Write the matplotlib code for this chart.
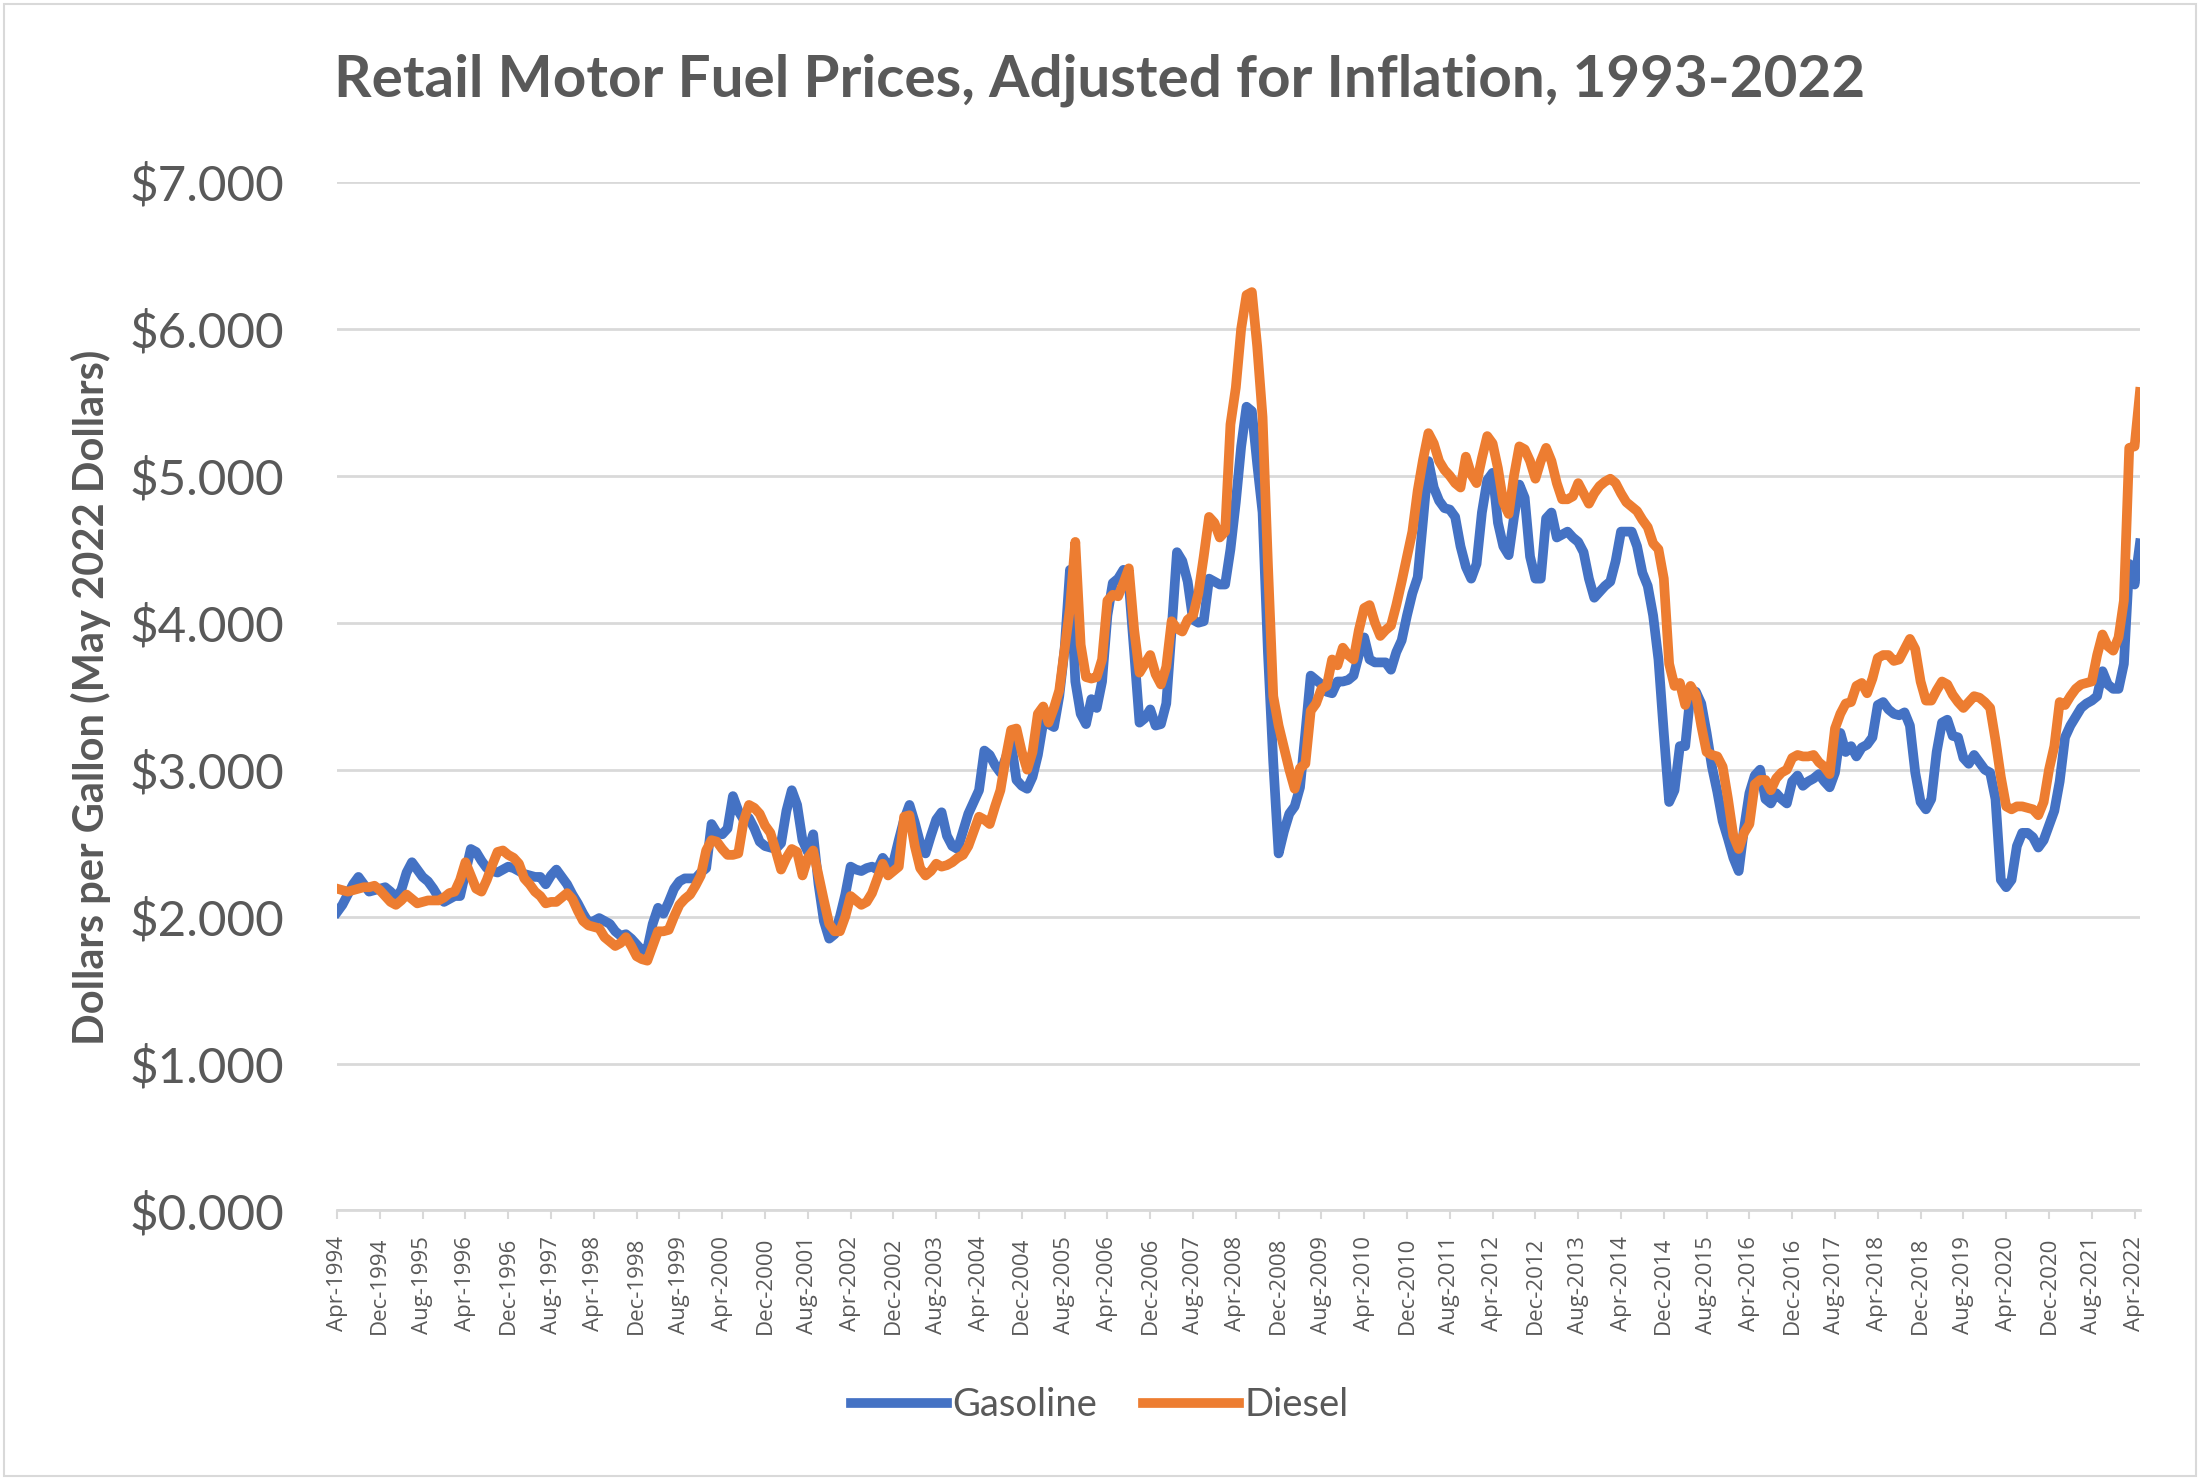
import numpy as np
import pandas as pd
import matplotlib
matplotlib.use("Agg")
import matplotlib.pyplot as plt
from matplotlib.patches import Rectangle

# monthly prices, May 2022 dollars per gallon, Apr-1994 .. May-2022
gasoline = [
    2.03, 2.08, 2.15, 2.22, 2.27, 2.22, 2.17, 2.18, 2.19,                    # 1994 (Apr-Dec)
    2.20, 2.17, 2.13, 2.18, 2.30, 2.37, 2.32, 2.27, 2.24, 2.19, 2.13, 2.10,  # 1995
    2.12, 2.14, 2.14, 2.30, 2.46, 2.44, 2.38, 2.33, 2.31, 2.30, 2.32, 2.34,  # 1996
    2.33, 2.31, 2.29, 2.28, 2.27, 2.27, 2.22, 2.28, 2.32, 2.27, 2.22, 2.15,  # 1997
    2.09, 2.02, 1.96, 1.97, 1.99, 1.97, 1.95, 1.90, 1.87, 1.88, 1.85, 1.81,  # 1998
    1.77, 1.78, 1.95, 2.06, 2.02, 2.10, 2.19, 2.24, 2.26, 2.26, 2.26, 2.30,  # 1999
    2.33, 2.63, 2.57, 2.56, 2.60, 2.82, 2.72, 2.66, 2.67, 2.60, 2.51, 2.48,  # 2000
    2.47, 2.46, 2.50, 2.72, 2.86, 2.76, 2.52, 2.44, 2.56, 2.22, 1.97, 1.85,  # 2001
    1.88, 2.00, 2.15, 2.34, 2.32, 2.31, 2.33, 2.34, 2.32, 2.40, 2.35, 2.37,  # 2002
    2.52, 2.66, 2.76, 2.64, 2.50, 2.43, 2.55, 2.66, 2.71, 2.55, 2.48, 2.46,  # 2003
    2.58, 2.70, 2.78, 2.86, 3.13, 3.10, 3.03, 2.98, 3.08, 3.18, 2.93, 2.89,  # 2004
    2.87, 2.95, 3.10, 3.32, 3.31, 3.29, 3.50, 3.82, 4.36, 3.60, 3.38, 3.31,  # 2005
    3.48, 3.42, 3.60, 4.05, 4.27, 4.30, 4.36, 4.27, 3.80, 3.32, 3.35, 3.41,  # 2006
    3.30, 3.31, 3.45, 3.95, 4.48, 4.42, 4.28, 4.02, 4.00, 4.01, 4.30, 4.28,  # 2007
    4.26, 4.26, 4.50, 4.82, 5.20, 5.47, 5.44, 5.08, 4.75, 3.80, 3.05, 2.43,  # 2008
    2.58, 2.70, 2.75, 2.88, 3.25, 3.64, 3.61, 3.58, 3.53, 3.52, 3.60, 3.60,  # 2009
    3.61, 3.64, 3.78, 3.90, 3.75, 3.73, 3.73, 3.73, 3.68, 3.80, 3.88, 4.05,  # 2010
    4.20, 4.31, 4.70, 5.10, 4.92, 4.83, 4.78, 4.77, 4.72, 4.52, 4.38, 4.30,  # 2011
    4.40, 4.75, 4.97, 5.02, 4.68, 4.52, 4.46, 4.72, 4.94, 4.85, 4.45, 4.30,  # 2012
    4.30, 4.71, 4.75, 4.58, 4.60, 4.62, 4.58, 4.55, 4.48, 4.30, 4.17, 4.21,  # 2013
    4.25, 4.28, 4.42, 4.62, 4.62, 4.62, 4.52, 4.34, 4.25, 4.05, 3.75, 3.25,  # 2014
    2.78, 2.86, 3.16, 3.16, 3.52, 3.53, 3.45, 3.25, 3.02, 2.85, 2.65, 2.53,  # 2015
    2.40, 2.31, 2.60, 2.84, 2.96, 3.00, 2.80, 2.77, 2.84, 2.80, 2.77, 2.92,  # 2016
    2.96, 2.89, 2.92, 2.94, 2.97, 2.92, 2.88, 2.98, 3.25, 3.12, 3.16, 3.09,  # 2017
    3.15, 3.17, 3.22, 3.44, 3.46, 3.41, 3.38, 3.37, 3.39, 3.30, 2.98, 2.78,  # 2018
    2.73, 2.80, 3.12, 3.32, 3.34, 3.23, 3.22, 3.08, 3.04, 3.10, 3.05, 3.00,  # 2019
    2.98, 2.80, 2.25, 2.20, 2.25, 2.48, 2.57, 2.57, 2.54, 2.47, 2.52, 2.62,  # 2020
    2.72, 2.92, 3.22, 3.30, 3.36, 3.42, 3.45, 3.47, 3.50, 3.67, 3.58, 3.55,  # 2021
    3.55, 3.72, 4.40, 4.26, 4.54,                                            # 2022 (Jan-May)
]

diesel = [
    2.19, 2.18, 2.17, 2.18, 2.19, 2.20, 2.20, 2.21, 2.18,                    # 1994 (Apr-Dec)
    2.14, 2.10, 2.08, 2.11, 2.15, 2.12, 2.09, 2.10, 2.11, 2.11, 2.11, 2.13,  # 1995
    2.16, 2.17, 2.25, 2.37, 2.28, 2.19, 2.17, 2.25, 2.35, 2.44, 2.45, 2.42,  # 1996
    2.40, 2.36, 2.26, 2.22, 2.17, 2.14, 2.09, 2.10, 2.10, 2.13, 2.16, 2.12,  # 1997
    2.04, 1.97, 1.94, 1.93, 1.92, 1.86, 1.83, 1.80, 1.82, 1.86, 1.80, 1.73,  # 1998
    1.71, 1.70, 1.80, 1.90, 1.90, 1.91, 2.00, 2.08, 2.12, 2.15, 2.21, 2.28,  # 1999
    2.45, 2.52, 2.51, 2.46, 2.42, 2.42, 2.43, 2.65, 2.76, 2.74, 2.70, 2.62,  # 2000
    2.57, 2.45, 2.32, 2.40, 2.46, 2.44, 2.28, 2.40, 2.45, 2.28, 2.11, 1.95,  # 2001
    1.90, 1.90, 2.00, 2.14, 2.11, 2.08, 2.10, 2.16, 2.26, 2.36, 2.28, 2.31,  # 2002
    2.34, 2.68, 2.69, 2.48, 2.33, 2.28, 2.31, 2.36, 2.34, 2.35, 2.37, 2.40,  # 2003
    2.42, 2.48, 2.58, 2.68, 2.66, 2.63, 2.75, 2.86, 3.08, 3.27, 3.28, 3.12,  # 2004
    3.00, 3.12, 3.38, 3.43, 3.32, 3.42, 3.54, 3.82, 4.10, 4.55, 3.85, 3.63,  # 2005
    3.62, 3.63, 3.75, 4.15, 4.19, 4.18, 4.27, 4.37, 3.95, 3.66, 3.72, 3.78,  # 2006
    3.65, 3.58, 3.70, 4.01, 3.96, 3.94, 4.02, 4.05, 4.20, 4.45, 4.72, 4.68,  # 2007
    4.58, 4.62, 5.35, 5.60, 6.00, 6.23, 6.25, 5.88, 5.40, 4.40, 3.50, 3.30,  # 2008
    3.15, 3.00, 2.87, 3.01, 3.04, 3.40, 3.45, 3.55, 3.57, 3.75, 3.71, 3.83,  # 2009
    3.78, 3.75, 3.95, 4.10, 4.12, 4.00, 3.91, 3.95, 3.98, 4.12, 4.28, 4.45,  # 2010
    4.62, 4.90, 5.11, 5.29, 5.22, 5.10, 5.04, 5.00, 4.95, 4.92, 5.13, 5.01,  # 2011
    4.95, 5.12, 5.27, 5.22, 5.05, 4.82, 4.74, 5.00, 5.20, 5.18, 5.10, 4.98,  # 2012
    5.10, 5.19, 5.10, 4.95, 4.84, 4.84, 4.86, 4.95, 4.88, 4.81, 4.88, 4.93,  # 2013
    4.96, 4.98, 4.95, 4.88, 4.82, 4.79, 4.76, 4.70, 4.65, 4.54, 4.50, 4.30,  # 2014
    3.72, 3.57, 3.59, 3.44, 3.57, 3.51, 3.30, 3.12, 3.10, 3.09, 3.02, 2.80,  # 2015
    2.55, 2.46, 2.57, 2.63, 2.90, 2.93, 2.93, 2.86, 2.94, 2.98, 3.00, 3.08,  # 2016
    3.10, 3.09, 3.09, 3.10, 3.05, 3.02, 2.97, 3.28, 3.38, 3.45, 3.46, 3.57,  # 2017
    3.59, 3.52, 3.62, 3.76, 3.78, 3.78, 3.74, 3.75, 3.82, 3.89, 3.82, 3.60,  # 2018
    3.47, 3.47, 3.54, 3.60, 3.58, 3.51, 3.46, 3.42, 3.46, 3.50, 3.49, 3.46,  # 2019
    3.42, 3.20, 2.95, 2.75, 2.73, 2.75, 2.75, 2.74, 2.73, 2.69, 2.78, 3.00,  # 2020
    3.16, 3.46, 3.44, 3.50, 3.55, 3.58, 3.59, 3.60, 3.78, 3.92, 3.84, 3.81,  # 2021
    3.90, 4.15, 5.19, 5.20, 5.57,                                            # 2022 (Jan-May)
]

months = pd.date_range("1994-04-01", periods=len(gasoline), freq="MS")
month_labels = [d.strftime("%b-%Y") for d in months]
label_step = 8
y_ticks = [0, 1, 2, 3, 4, 5, 6, 7]

blue = "#4472C4"
orange = "#ED7D31"
grey_text = "#595959"
grid_col = "#D9D9D9"

plt.rcParams["font.family"] = ["Lato", "DejaVu Sans"]

fig = plt.figure(figsize=(22, 14.8), dpi=100)
ax = fig.add_axes([0.1532, 0.1821, 0.8195, 0.695])

x = np.arange(len(gasoline))
ax.plot(x, gasoline, color=blue, lw=7, solid_joinstyle="round", label="Gasoline", zorder=3)
ax.plot(x, diesel, color=orange, lw=7, solid_joinstyle="round", label="Diesel", zorder=4)

ax.set_xlim(0, len(gasoline) - 1)
ax.set_ylim(0, 7)
ax.set_yticks(y_ticks)
ax.set_yticklabels([f"${v:.3f}" for v in y_ticks], fontsize=35.5, color=grey_text)
ax.yaxis.grid(True, color=grid_col, lw=2)
ax.set_axisbelow(True)
ax.tick_params(axis="y", length=0, pad=38)

tick_pos = x[::label_step]
ax.set_xticks(tick_pos)
ax.set_xticklabels([month_labels[i] for i in tick_pos], rotation=90, fontsize=16,
                   color=grey_text, family=["Open Sans", "DejaVu Sans"])
ax.tick_params(axis="x", length=6.5, width=1.5, color=grid_col, pad=12)

for s in ["top", "right", "left"]:
    ax.spines[s].set_visible(False)
ax.spines["bottom"].set_color(grid_col)
ax.spines["bottom"].set_linewidth(2)

fig.text(0.5, 0.946, "Retail Motor Fuel Prices, Adjusted for Inflation, 1993-2022",
         ha="center", va="center", fontsize=42, fontweight="bold", color=grey_text)
fig.text(0.0414, 0.529, "Dollars per Gallon (May 2022 Dollars)", rotation=90,
         ha="center", va="center", fontsize=30, fontweight="bold", color=grey_text)

fig.legend(loc="center", bbox_to_anchor=(0.5, 0.0507), ncol=2, frameon=False,
           fontsize=27.5, handlelength=2.5, handletextpad=0.15, columnspacing=1.2,
           labelcolor=grey_text)

fig.add_artist(Rectangle((0.002, 0.003), 0.996, 0.994, transform=fig.transFigure,
                         fill=False, ec=grid_col, lw=1.5))

fig.savefig("out.png", dpi=100, facecolor="white")
